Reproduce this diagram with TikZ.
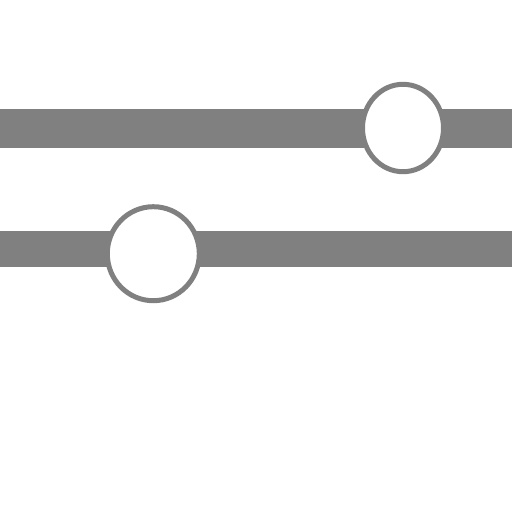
\documentclass[tikz,border=0pt]{standalone}
\usepackage{tikz}
\usetikzlibrary{shapes.geometric}
\definecolor{slidergray}{HTML}{808080}
\tikzstyle{track} = [fill=slidergray, draw=none]
\tikzstyle{knob} = [ellipse, draw=slidergray, fill=white, line width=5pt, inner sep=0pt]

\begin{document}
\begin{tikzpicture}[x=1pt,y=-1pt]
	\useasboundingbox[fill=white] (0,0) rectangle (512,512);
	\fill[track] (0,109) rectangle (512,148);
	\fill[track] (0,231) rectangle (512,267);
	\node[knob, minimum width=81pt, minimum height=87.4pt] (knobA) at (403,128) {};
	\node[knob, minimum width=92pt, minimum height=94pt] (knobB) at (153.3,253.7) {};
\end{tikzpicture}
\end{document}
